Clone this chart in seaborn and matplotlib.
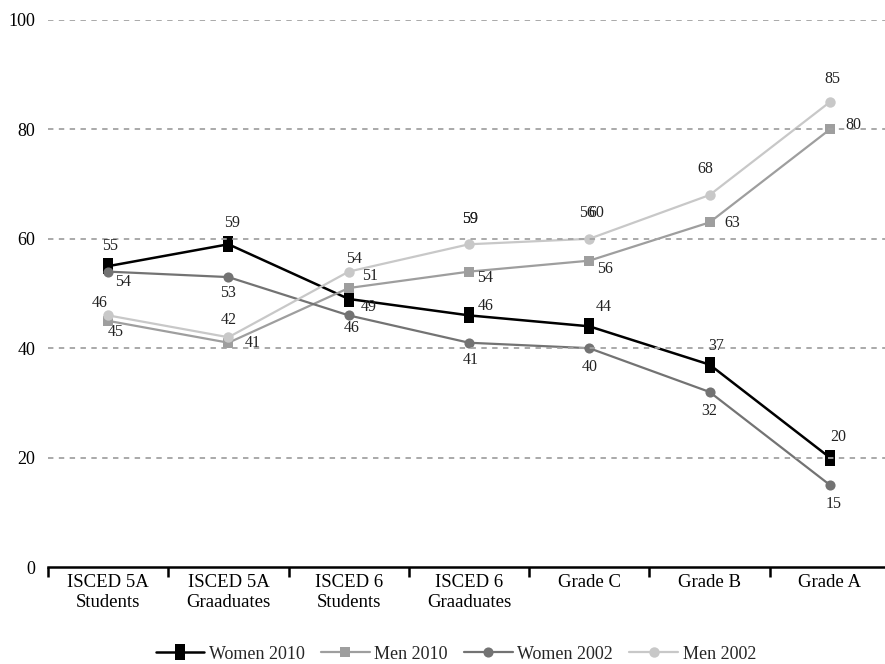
import pandas as pd
import matplotlib.pyplot as plt
from matplotlib.path import Path
import seaborn as sns

# Chart values
categories = ["ISCED 5A\nStudents", "ISCED 5A\nGraaduates", "ISCED 6\nStudents",
              "ISCED 6\nGraaduates", "Grade C", "Grade B", "Grade A"]
women_2010 = [55, 59, 49, 46, 44, 37, 20]
men_2010 = [45, 41, 51, 54, 56, 63, 80]
women_2002 = [54, 53, 46, 41, 40, 32, 15]
men_2002 = [46, 42, 54, 59, 60, 68, 85]
y_ticks = [0, 20, 40, 60, 80, 100]

series = {
    "Women 2010": women_2010,
    "Men 2010": men_2010,
    "Women 2002": women_2002,
    "Men 2002": men_2002,
}

rows = []
for name, vals in series.items():
    for i, v in enumerate(vals):
        rows.append({"series": name, "pos": i, "value": v})
df = pd.DataFrame(rows)

# tall rectangle marker for Women 2010
rect = Path([(-0.3, -0.5), (0.3, -0.5), (0.3, 0.5), (-0.3, 0.5), (-0.3, -0.5)],
            [Path.MOVETO, Path.LINETO, Path.LINETO, Path.LINETO, Path.CLOSEPOLY])

styles = {
    "Women 2010": dict(color="black", marker=rect, markersize=11, linewidth=1.8),
    "Men 2010": dict(color="#9e9e9e", marker="s", markersize=6.5, linewidth=1.6),
    "Women 2002": dict(color="#737373", marker="o", markersize=7.3, linewidth=1.6),
    "Men 2002": dict(color="#c8c8c8", marker="o", markersize=7.5, linewidth=1.6),
}

# label offsets in pixels (dx, dy down)
label_offsets = {
    "Women 2010": [(2, -20), (4, -21), (20, 8), (17, -9), (14, -19), (7, -19), (8, -21)],
    "Men 2010": [(8, 11), (24, 0), (21, -12), (16, 6), (16, 8), (23, 1), (24, -4)],
    "Women 2002": [(15, 10), (0, 16), (3, 13), (2, 17), (0, 19), (0, 19), (4, 19)],
    "Men 2002": [(-8, -12), (0, -17), (5, -13), (1, -25), (7, -26), (-4, -26), (3, -23)],
}

sns.set_theme(style="white")
plt.rcParams["font.family"] = ["Liberation Serif", "DejaVu Serif"]

fig = plt.figure(figsize=(8.85, 6.64), dpi=100)
ax = fig.add_axes([48 / 885, 97 / 664, 842 / 885, 547 / 664])

for name in series:
    sns.lineplot(
        data=df[df["series"] == name],
        x="pos",
        y="value",
        label=name,
        markeredgewidth=0,
        zorder=3,
        ax=ax,
        **styles[name]
    )

# data labels
for name, vals in series.items():
    for i, v in enumerate(vals):
        dx, dy = label_offsets[name][i]
        ax.annotate(str(v), (i, v), xytext=(dx, -dy), textcoords="offset pixels",
                    ha="center", va="center", fontsize=11.5, color="#222222", zorder=6)

# overlapping labels seen in the original (59 printed twice, 56 over 60)
ax.annotate(str(men_2002[3]), (3, men_2002[3]), xytext=(1, 25), textcoords="offset pixels",
            ha="center", va="center", fontsize=11.5, color="#222222", zorder=6)
ax.annotate(str(men_2010[4]), (4, men_2002[4]), xytext=(-2, 26), textcoords="offset pixels",
            ha="center", va="center", fontsize=11.5, color="#222222", zorder=6)

# dotted gridlines
for y in y_ticks[1:]:
    ax.axhline(y, color="#a3a3a3", linewidth=1.3, linestyle=(0, (3, 3)), zorder=4)

ax.set_xlim(-0.5, len(categories) - 0.5)
ax.set_ylim(0, 100)
ax.set_yticks(y_ticks)
ax.set_yticklabels([str(t) for t in y_ticks], fontsize=13)
ax.set_xticks(range(len(categories)))
ax.set_xticklabels(categories, fontsize=13.5)
ax.set_xticks([i - 0.5 for i in range(len(categories) + 1)], minor=True)
ax.tick_params(axis="x", which="major", bottom=False, length=0, pad=5, colors="black")
ax.tick_params(axis="x", which="minor", bottom=True, length=7, width=1.8,
               direction="out", color="black")
ax.tick_params(axis="y", left=False, length=0, pad=9, colors="black")
ax.set_xlabel("")
ax.set_ylabel("")

for s in ["left", "top", "right"]:
    ax.spines[s].set_visible(False)
ax.spines["bottom"].set_color("black")
ax.spines["bottom"].set_linewidth(1.8)

ax.legend(loc="center", bbox_to_anchor=(0.515, 0.015), bbox_transform=fig.transFigure,
          ncol=4, frameon=False, fontsize=13, handlelength=2.7, handletextpad=0.25,
          columnspacing=0.9)

fig.savefig("out.png", dpi=100)
